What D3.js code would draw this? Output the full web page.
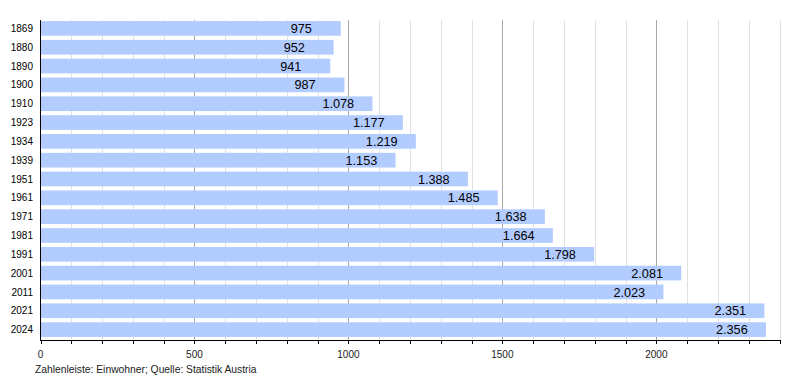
<!DOCTYPE html>
<html><head><meta charset="utf-8">
<script src="https://cdn.jsdelivr.net/npm/d3@7"></script>
<style>body{margin:0;background:#fff;} svg{display:block;font-family:"Liberation Sans",Arial,sans-serif;}</style>
</head><body>
<svg id="c" width="800" height="380"></svg>
<script>
const years = ["1869","1880","1890","1900","1910","1923","1934","1939","1951","1961","1971","1981","1991","2001","2011","2021","2024"];
const population = [975,952,941,987,1078,1177,1219,1153,1388,1485,1638,1664,1798,2081,2023,2351,2356];
const tickLabels = [0,500,1000,1500,2000];
const footer = "Zahlenleiste: Einwohner; Quelle: Statistik Austria";

const svg = d3.select("#c");
const x = d3.scaleLinear().domain([0,2400]).range([40.5,779.5]);
const y = d3.scaleBand().domain(years).range([19,339]).paddingInner(0.22).paddingOuter(0.11);
const plotTop = 20, plotBottom = 340.5;

// gridlines
const minor = d3.range(100,2401,100);
svg.append("g").selectAll("line").data(minor).join("line")
  .attr("x1",d=>Math.round(x(d))+0.5).attr("x2",d=>Math.round(x(d))+0.5)
  .attr("y1",plotTop).attr("y2",plotBottom)
  .attr("stroke",d=>d%500===0?"#a8a8a8":"#e0e0e0").attr("stroke-width",1);

// bars
svg.append("g").selectAll("rect").data(population).join("rect")
  .attr("x",x(0)+0.5).attr("y",(d,i)=>y(years[i]))
  .attr("width",d=>x(d)-x(0)-0.5).attr("height",y.bandwidth())
  .attr("fill","#b3ccff");

// value labels
const fmt = v => v>=1000 ? Math.floor(v/1000)+"."+String(v%1000).padStart(3,"0") : String(v);
svg.append("g").selectAll("text").data(population).join("text")
  .attr("x",d=>x(d)-50).attr("y",(d,i)=>y(years[i])+y.bandwidth()/2)
  .attr("dy","0.36em").attr("font-size",12.7).attr("fill","#000")
  .text(fmt);

// y labels
svg.append("g").selectAll("text").data(years).join("text")
  .attr("x",33).attr("y",d=>y(d)+y.bandwidth()/2).attr("dy","0.36em")
  .attr("text-anchor","end").attr("font-size",10).attr("fill","#000").text(d=>d);

// axes lines
svg.append("line").attr("x1",40.5).attr("x2",40.5).attr("y1",plotTop).attr("y2",plotBottom).attr("stroke","#000");
svg.append("line").attr("x1",40).attr("x2",781).attr("y1",plotBottom).attr("y2",plotBottom).attr("stroke","#000");
// ticks
svg.append("g").selectAll("line").data(d3.range(0,2401,100)).join("line")
  .attr("x1",d=>Math.round(x(d))+0.5).attr("x2",d=>Math.round(x(d))+0.5)
  .attr("y1",plotBottom).attr("y2",plotBottom+3.5).attr("stroke","#000");
svg.append("g").selectAll("text").data(tickLabels).join("text")
  .attr("x",d=>x(d)).attr("y",358).attr("text-anchor","middle")
  .attr("font-size",10).attr("fill","#222").text(d=>d);

svg.append("text").attr("x",35).attr("y",372.5).attr("font-size",10.3).attr("fill","#222").text(footer);
</script>
</body></html>
